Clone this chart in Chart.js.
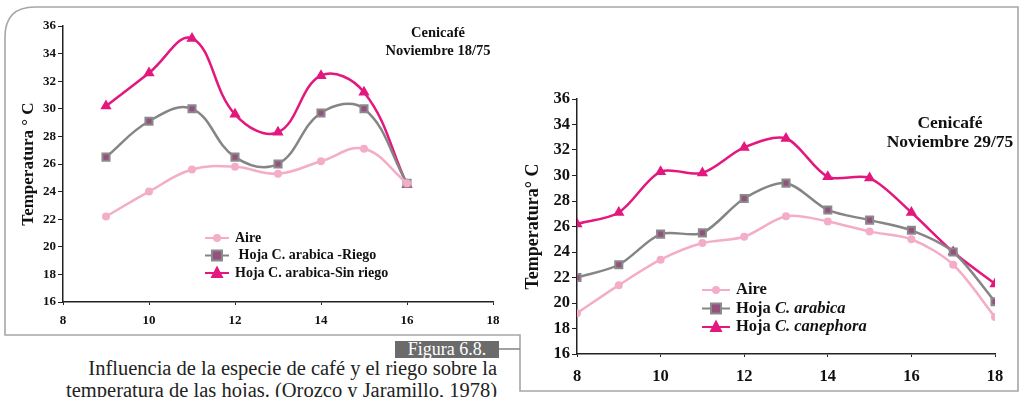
<!DOCTYPE html>
<html>
<head>
<meta charset="utf-8">
<script src="https://cdn.jsdelivr.net/npm/chart.js@4.4.0/dist/chart.umd.min.js"></script>
<style>
  html, body { margin: 0; padding: 0; background: #fff; }
  body { width: 1023px; height: 397px; position: relative; overflow: hidden; }
  #marco { position: absolute; left: 0; top: 0; }
  #wrapIzq { position: absolute; left: 0; top: 0; width: 510px; height: 335px; }
  #wrapDer { position: absolute; left: 520px; top: 80px; width: 500px; height: 310px; }
  .figura { position: absolute; left: 395px; top: 341px; width: 104px; height: 17px; background: #6b6b6b;
            color: #fff; font: 18px "Liberation Serif", serif; line-height: 17px; text-align: center; }
  .pie { position: absolute; right: 526px; font: 20.5px "Liberation Serif", serif; color: #222; white-space: nowrap; text-align: right; }
</style>
</head>
<body>
<svg id="marco" width="1023" height="397">
  <path d="M520,391 L520,335 L5,335 L5,37 Q5,7 35,7 L1018,7 L1018,391 Z" fill="none" stroke="#a6a6a6" stroke-width="1.6"/>
  <line x1="499" y1="349" x2="520" y2="349" stroke="#8a8a8a" stroke-width="1.6"/>
</svg>
<div id="wrapIzq"><canvas id="graficoIzq" width="510" height="335"></canvas></div>
<div id="wrapDer"><canvas id="graficoDer" width="500" height="310"></canvas></div>
<div class="figura">Figura 6.8.</div>
<div class="pie" style="top:357px">Influencia de la especie de café y el riego sobre la</div>
<div class="pie" style="top:379px">temperatura de las hojas. (Orozco y Jaramillo, 1978)</div>

<script>
// --- Datos ---
const yTicks = [16, 18, 20, 22, 24, 26, 28, 30, 32, 34, 36];
const xTicks = [8, 10, 12, 14, 16, 18];

// Gráfico izquierdo (Noviembre 18/75)
const horasIzq = [9, 10, 11, 12, 13, 14, 15, 16];
const aireIzq = [22.2, 24.0, 25.6, 25.8, 25.3, 26.2, 27.1, 24.6];
const riegoIzq = [26.5, 29.1, 30.0, 26.5, 26.0, 29.7, 30.0, 24.6];
const sinRiegoIzq = [30.2, 32.6, 35.1, 29.6, 28.3, 32.4, 31.2, 24.5];

// Gráfico derecho (Noviembre 29/75)
const horasDer = [8, 9, 10, 11, 12, 13, 14, 15, 16, 17, 18];
const aireDer = [19.2, 21.4, 23.4, 24.7, 25.2, 26.8, 26.4, 25.6, 25.0, 23.0, 18.9];
const arabicaDer = [22.0, 23.0, 25.4, 25.5, 28.2, 29.4, 27.3, 26.5, 25.7, 24.0, 20.1];
const canephoraDer = [26.2, 27.1, 30.3, 30.2, 32.2, 32.9, 29.9, 29.8, 27.1, 24.0, 21.5];

const colorAire = '#f4adc8';
const colorGris = '#858585';
const colorMagenta = '#e3177d';
const fuente = '"Liberation Serif", "DejaVu Serif", serif';

function puntos(xs, ys) {
  return xs.map((x, i) => ({ x: x, y: ys[i] }));
}

// dibuja un marcador simple (circulo, cuadrado, triangulo)
function marcador(ctx, estilo, x, y, r, fondo, borde, ancho) {
  ctx.save();
  ctx.fillStyle = fondo;
  ctx.strokeStyle = borde;
  ctx.lineWidth = ancho;
  ctx.beginPath();
  if (estilo === 'rect') {
    ctx.rect(x - r, y - r, 2 * r, 2 * r);
  } else if (estilo === 'triangle') {
    ctx.moveTo(x, y - r * 1.15);
    ctx.lineTo(x + r, y + r * 0.75);
    ctx.lineTo(x - r, y + r * 0.75);
    ctx.closePath();
  } else {
    ctx.arc(x, y, r, 0, Math.PI * 2);
  }
  ctx.fill();
  if (ancho > 0) ctx.stroke();
  ctx.restore();
}

// Plugin: leyenda dentro del área y texto "Cenicafé"
const pluginTextos = {
  id: 'textos',
  afterDraw(chart, args, opts) {
    const ctx = chart.ctx;
    ctx.save();
    ctx.fillStyle = '#111';
    ctx.textBaseline = 'middle';
    // nota
    ctx.textAlign = 'center';
    ctx.font = 'bold ' + opts.notaSize + 'px ' + fuente;
    opts.nota.forEach((t, i) => ctx.fillText(t, opts.notaX, opts.notaY + i * opts.notaH));
    // leyenda
    ctx.textAlign = 'left';
    chart.data.datasets.forEach((ds, i) => {
      const y = opts.legY + i * opts.legH;
      ctx.strokeStyle = ds.borderColor;
      ctx.lineWidth = 2;
      ctx.beginPath();
      ctx.moveTo(opts.legX, y);
      ctx.lineTo(opts.legX + opts.legW, y);
      ctx.stroke();
      marcador(ctx, ds.pointStyle, opts.legX + opts.legW / 2, y, ds.pointRadius,
        ds.pointBackgroundColor, ds.pointBorderColor, ds.pointBorderWidth);
      let x = opts.legX + opts.legW + 6;
      ctx.fillStyle = '#111';
      opts.etiquetas[i].forEach(seg => {
        ctx.font = (seg.italic ? 'italic ' : '') + 'bold ' + opts.legSize + 'px ' + fuente;
        ctx.fillText(seg.t, x, y);
        x += ctx.measureText(seg.t).width;
      });
    });
    ctx.restore();
  }
};

function crearGrafico(id, cfg) {
  const ds = [
    { data: puntos(cfg.horas, cfg.series[0]), borderColor: colorAire, backgroundColor: colorAire,
      pointStyle: 'circle', pointRadius: 4, pointBackgroundColor: colorAire, pointBorderColor: colorAire, pointBorderWidth: 0 },
    { data: puntos(cfg.horas, cfg.series[1]), borderColor: colorGris, backgroundColor: colorGris,
      pointStyle: 'rect', pointRadius: 5, pointBackgroundColor: '#94507f', pointBorderColor: '#8a8a8a', pointBorderWidth: 2 },
    { data: puntos(cfg.horas, cfg.series[2]), borderColor: colorMagenta, backgroundColor: colorMagenta,
      pointStyle: 'triangle', pointRadius: 6.5, pointBackgroundColor: colorMagenta, pointBorderColor: colorMagenta, pointBorderWidth: 0 }
  ];
  ds.forEach(d => { d.borderWidth = 2.5; d.tension = cfg.tension; d.fill = false; d.pointHoverRadius = d.pointRadius; });

  return new Chart(document.getElementById(id), {
    type: 'line',
    data: { datasets: ds },
    plugins: [pluginTextos],
    options: {
      responsive: false,
      animation: false,
      layout: { padding: cfg.padding },
      plugins: {
        legend: { display: false },
        tooltip: { enabled: false },
        textos: cfg.textos
      },
      scales: {
        x: {
          type: 'linear', min: 8, max: 18,
          afterBuildTicks: s => { s.ticks = xTicks.map(v => ({ value: v })); },
          afterFit: s => { s.height = cfg.altoX; },
          ticks: { color: '#111', font: { family: fuente, size: cfg.tickSize, weight: 'bold' }, padding: cfg.padX },
          grid: { drawOnChartArea: false, tickLength: 3, color: '#222' },
          border: { color: '#222', width: 1.5 }
        },
        y: {
          min: 16, max: 36,
          afterBuildTicks: s => { s.ticks = yTicks.map(v => ({ value: v })); },
          afterFit: s => { s.width = cfg.anchoY; },
          ticks: { color: '#111', font: { family: fuente, size: cfg.tickSize, weight: 'bold' }, padding: 2 },
          grid: { drawOnChartArea: false, tickLength: 5, color: '#222' },
          border: { color: '#222', width: 1.5 },
          title: { display: true, text: cfg.tituloY, color: '#111', padding: cfg.padTitulo,
                   font: { family: fuente, size: cfg.tituloSize, weight: 'bold' } }
        }
      }
    }
  });
}

crearGrafico('graficoIzq', {
  horas: horasIzq,
  series: [aireIzq, riegoIzq, sinRiegoIzq],
  tension: 0.4,
  padding: { left: 0, right: 17, top: 26, bottom: 0 },
  altoX: 33, anchoY: 63, padX: 8,
  tickSize: 13, tituloSize: 17, padTitulo: { top: 18, bottom: 0 },
  tituloY: 'Temperatura ° C',
  textos: {
    nota: ['Cenicafé', 'Noviembre 18/75'], notaX: 438, notaY: 33, notaH: 18, notaSize: 14.5,
    legX: 205, legY: 238, legH: 17.5, legW: 24, legSize: 14,
    etiquetas: [[{ t: 'Aire' }], [{ t: ' Hoja C. arabica -Riego' }], [{ t: 'Hoja C. arabica-Sin riego' }]]
  }
});

crearGrafico('graficoDer', {
  horas: horasDer,
  series: [aireDer, arabicaDer, canephoraDer],
  tension: 0.3,
  padding: { left: 0, right: 25, top: 19, bottom: 0 },
  altoX: 36, anchoY: 57, padX: 10,
  tickSize: 16.5, tituloSize: 18, padTitulo: { top: 3, bottom: 0 },
  tituloY: 'Temperatura° C',
  textos: {
    nota: ['Cenicafé', 'Noviembre 29/75'], notaX: 430, notaY: 43, notaH: 19, notaSize: 17.5,
    legX: 182, legY: 210, legH: 18.5, legW: 28, legSize: 16.5,
    etiquetas: [[{ t: 'Aire' }], [{ t: 'Hoja ' }, { t: 'C. arabica', italic: true }], [{ t: 'Hoja ' }, { t: 'C. canephora', italic: true }]]
  }
});
</script>
</body>
</html>
